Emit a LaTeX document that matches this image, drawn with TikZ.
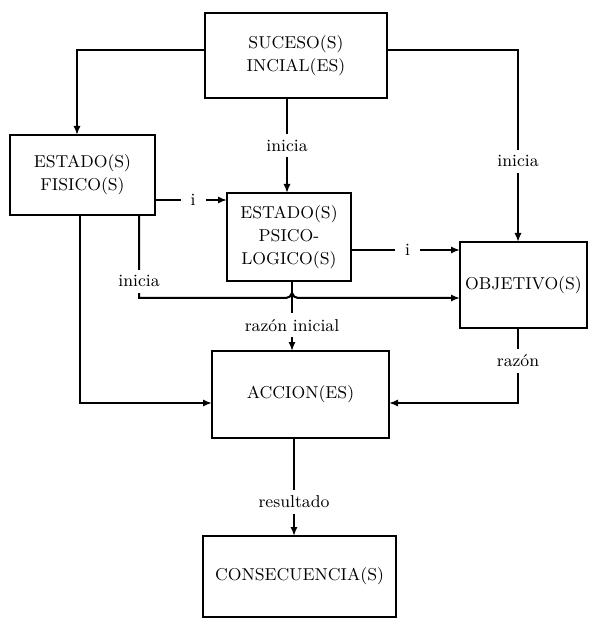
\documentclass[tikz,border=0pt]{standalone}
\usetikzlibrary{arrows.meta}
\begin{document}
\begin{tikzpicture}[x=0.5pt,y=-0.5pt,
  line width=1pt,
  box/.style={draw,line width=1.1pt,inner sep=0pt,outer sep=0pt,align=center,
    font=\fontsize{8.6}{11.5}\selectfont},
  arr/.style={-{Latex[length=4.5pt,width=3.6pt]}},
  lbl/.style={fill=white,inner xsep=3pt,inner ysep=3pt,font=\fontsize{8.6}{11}\selectfont},
  ilbl/.style={lbl,inner xsep=5pt}]
\useasboundingbox (0,0) rectangle (588,619);
\begin{scope}
\clip (0,0) rectangle (588,619);
% boxes
\node[box,minimum width=91pt,minimum height=42.5pt] (suc) at (296,55.5) {SUCESO(S)\\INCIAL(ES)};
\node[box,minimum width=72.5pt,minimum height=40pt] (fis) at (82.5,175) {ESTADO(S)\\FISICO(S)};
\node[box,minimum width=62pt,minimum height=44pt] (psi) at (289,237) {ESTADO(S)\\PSICO-\\LOGICO(S)};
\node[box,minimum width=63.5pt,minimum height=43pt] (obj) at (523.5,285) {OBJETIVO(S)};
\node[box,minimum width=88.5pt,minimum height=43.5pt] (acc) at (300.5,394.5) {ACCION(ES)};
\node[box,minimum width=96.5pt,minimum height=40.5pt] (con) at (299.5,576.5) {CONSECUENCIA(S)};
\end{scope}
% connectors
\draw[arr] (suc.west |- 0,50) -| (fis.north -| 77,0);
\draw[arr] (suc.east |- 0,50) -| node[lbl,pos=0.79]{inicia} (obj.north -| 518,0);
\draw[arr] (suc.south -| 287,0) -- node[lbl]{inicia} (psi.north -| 287,0);
\draw[arr] (fis.east |- 0,200) -- node[ilbl,pos=0.53]{i} (psi.west |- 0,200);
\draw[arr] (psi.east |- 0,250) -- node[ilbl,pos=0.52]{i} (obj.west |- 0,250);
\draw[arr] (fis.south -| 80,0) |- (acc.west |- 0,403);
% line jump where this path crosses the vertical below the psychological state
\draw[arr] (fis.south -| 139,0) |- node[lbl,pos=0.4]{inicia} (286,298)
  .. controls (289,298) and (291,296) .. (292,293)
  .. controls (293,296) and (295,298) .. (298,298)
  -- (obj.west |- 0,298);
\draw[arr] (psi.south -| 292,0) -- node[lbl,pos=0.63]{razón inicial} (acc.north -| 292,0);
\draw[arr] (obj.south -| 518,0) |- node[lbl,pos=0.22]{razón} (acc.east |- 0,403);
\draw[arr] (acc.south -| 294,0) -- node[lbl,pos=0.65]{resultado} (con.north -| 294,0);
\end{tikzpicture}
\end{document}
